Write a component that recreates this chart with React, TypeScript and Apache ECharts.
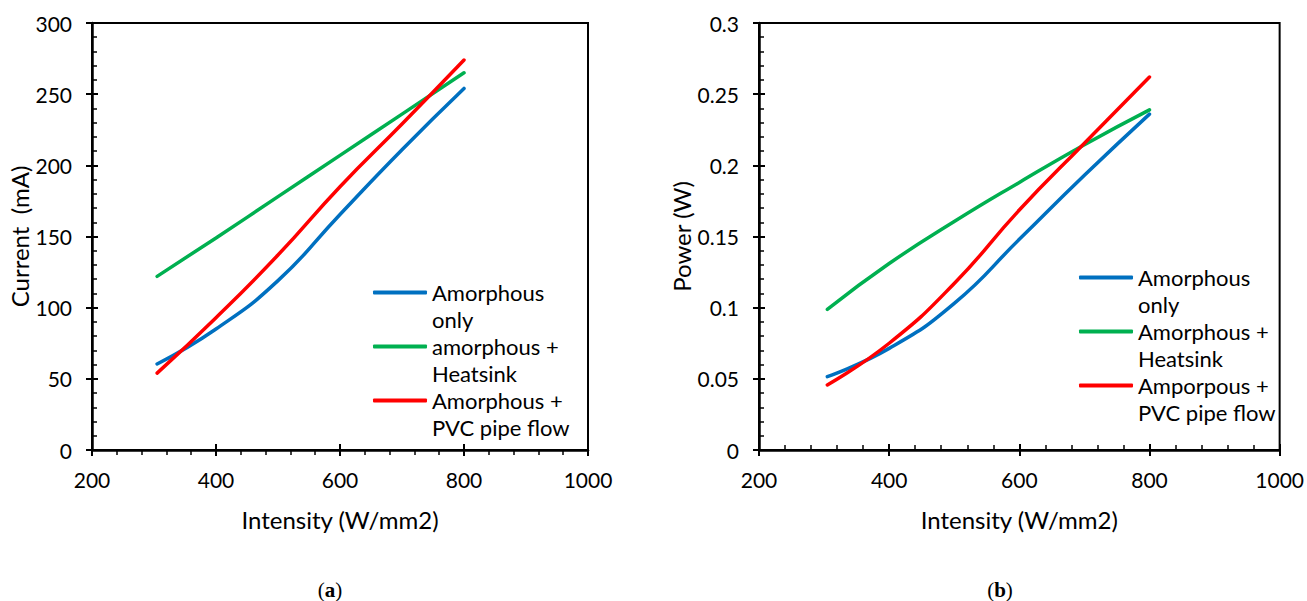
import React, { useEffect, useRef } from "react";
import * as echarts from "echarts";

const intensity = [305, 400, 500, 600, 700, 800];

const currentNames = ["Amorphous only", "amorphous + Heatsink", "Amorphous + PVC pipe flow"];
const currentAmorphous = [60.4, 85, 119, 165.5, 211, 254];
const currentHeatsink = [122, 149, 178, 207, 236, 265];
const currentPvc = [54, 93, 137, 185, 229, 274];

const powerNames = ["Amorphous only", "Amorphous + Heatsink", "Amporpous + PVC pipe flow"];
const powerAmorphous = [0.0515, 0.0714, 0.103, 0.148, 0.193, 0.236];
const powerHeatsink = [0.0988, 0.131, 0.1605, 0.188, 0.2145, 0.239];
const powerPvc = [0.0457, 0.075, 0.117, 0.1686, 0.2155, 0.262];

const wrapped: Record<string, string> = {
  "Amorphous only": "Amorphous\nonly",
  "amorphous + Heatsink": "amorphous +\nHeatsink",
  "Amorphous + PVC pipe flow": "Amorphous +\nPVC pipe flow",
  "Amorphous + Heatsink": "Amorphous +\nHeatsink",
  "Amporpous + PVC pipe flow": "Amporpous +\nPVC pipe flow",
};

const colors = ["#0070C0", "#00B050", "#FF0000"];
const FONT = "Lato";

function pairs(xs: number[], ys: number[]) {
  return xs.map((x, i) => [x, ys[i]]);
}

export default function App() {
  const ref = useRef<HTMLDivElement>(null);
  useEffect(() => {
    document.body.style.margin = "0";
    const chart = echarts.init(ref.current!, null, { renderer: "svg" });
    const lbl = { color: "#000", fontFamily: FONT, fontSize: 21 };
    const nameStyle = { color: "#000", fontFamily: FONT, fontSize: 24 };
    const mainX = (gridIndex: number, minor: boolean) => ({
      type: "value",
      gridIndex,
      position: "bottom",
      min: 200,
      max: 1000,
      interval: 200,
      name: "Intensity (W/mm2)",
      nameLocation: "middle",
      nameGap: 57,
      nameTextStyle: nameStyle,
      axisLine: { show: true, lineStyle: { color: "#000", width: 2.5 } },
      axisTick: { show: true, inside: false, length: 6, lineStyle: { color: "#000", width: 2 } },
      minorTick: { show: minor, splitNumber: 5, length: 5, lineStyle: { color: "#000", width: 1.5 } },
      axisLabel: { ...lbl, margin: 19, formatter: (v: number) => String(v) },
      splitLine: { show: false },
    });
    const overX = (gridIndex: number, minor: boolean) => ({
      type: "value",
      gridIndex,
      position: "bottom",
      min: 200,
      max: 1000,
      interval: 200,
      axisLine: { show: false },
      axisTick: { show: true, inside: true, length: 6, lineStyle: { color: "#000", width: 2 } },
      minorTick: { show: minor, splitNumber: 5, length: 5, lineStyle: { color: "#000", width: 1.5 } },
      axisLabel: { show: false },
      splitLine: { show: false },
    });
    const mainY = (gridIndex: number, max: number, interval: number, name: string, gap: number) => ({
      type: "value",
      gridIndex,
      position: "left",
      min: 0,
      max,
      interval,
      name,
      nameLocation: "middle",
      nameGap: gap,
      nameTextStyle: nameStyle,
      axisLine: { show: true, lineStyle: { color: "#000", width: 2.5 } },
      axisTick: { show: true, inside: false, length: 6, lineStyle: { color: "#000", width: 2 } },
      minorTick: { show: false },
      axisLabel: { ...lbl, margin: 20 },
      splitLine: { show: false },
    });
    const overY = (gridIndex: number, max: number, interval: number) => ({
      type: "value",
      gridIndex,
      position: "left",
      min: 0,
      max,
      interval,
      axisLine: { show: false },
      axisTick: { show: true, inside: true, length: 6, lineStyle: { color: "#000", width: 2 } },
      minorTick: { show: true, splitNumber: 5, length: 5, lineStyle: { color: "#000", width: 1.5 } },
      axisLabel: { show: false },
      splitLine: { show: false },
    });
    const line = (name: string, data: number[][], color: string, xi: number, yi: number) => ({
      type: "line",
      name,
      data,
      xAxisIndex: xi,
      yAxisIndex: yi,
      smooth: true,
      symbol: "none",
      showSymbol: false,
      color,
      itemStyle: { color },
      lineStyle: { color, width: 3.5, cap: "round" },
    });
    const legend = (left: number, top: number, names: string[]) => ({
      show: true,
      orient: "vertical",
      left,
      top,
      padding: 0,
      itemGap: -27,
      itemWidth: 54,
      itemHeight: 4,
      icon: "roundRect",
      selectedMode: false,
      data: names,
      formatter: (n: string) => " \n" + (wrapped[n] || n),
      textStyle: { color: "#000", fontFamily: FONT, fontSize: 22, lineHeight: 27 },
    });
    const caption = (x: number, letter: string) => ({
      type: "text",
      x,
      y: 590,
      style: {
        text: "({b|" + letter + "})",
        fontFamily: "Liberation Serif",
        fontSize: 21,
        fill: "#000",
        align: "center",
        verticalAlign: "middle",
        rich: { b: { fontFamily: "Liberation Serif", fontSize: 21, fontWeight: "bold", fill: "#000" } },
      },
    });
    chart.setOption({
      animation: false,
      backgroundColor: "#fff",
      grid: [
        { left: 92, top: 23, width: 496, height: 427, show: true, borderColor: "#000", borderWidth: 2, backgroundColor: "transparent" },
        { left: 759, top: 23, width: 525, height: 427, show: true, borderColor: "#000", borderWidth: 2, backgroundColor: "transparent" },
      ],
      xAxis: [mainX(0, true), overX(0, false), mainX(1, false), overX(1, true)],
      yAxis: [
        mainY(0, 300, 50, "Current  (mA)", 58),
        overY(0, 300, 50),
        mainY(1, 0.3, 0.05, "Power (W)", 65),
        overY(1, 0.3, 0.05),
      ],
      legend: [legend(373, 252, currentNames), legend(1079, 237, powerNames)],
      series: [
        line(currentNames[0], pairs(intensity, currentAmorphous), colors[0], 0, 0),
        line(currentNames[1], pairs(intensity, currentHeatsink), colors[1], 0, 0),
        line(currentNames[2], pairs(intensity, currentPvc), colors[2], 0, 0),
        line(powerNames[0], pairs(intensity, powerAmorphous), colors[0], 2, 2),
        line(powerNames[1], pairs(intensity, powerHeatsink), colors[1], 2, 2),
        line(powerNames[2], pairs(intensity, powerPvc), colors[2], 2, 2),
      ],
      graphic: [caption(330, "a"), caption(1000, "b")],
    });
    return () => chart.dispose();
  }, []);
  return <div ref={ref} style={{ width: 1307, height: 601 }} />;
}
